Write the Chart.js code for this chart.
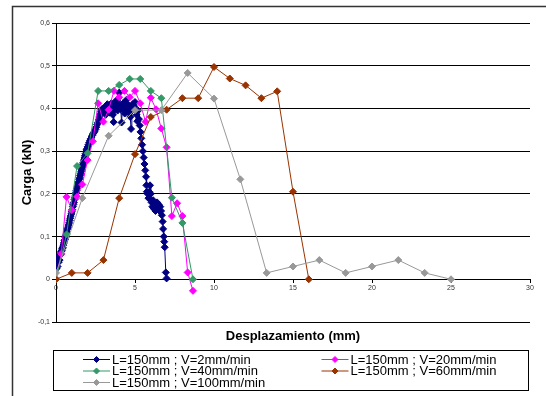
<!DOCTYPE html>
<html><head><meta charset="utf-8">
<script src="https://cdn.jsdelivr.net/npm/chart.js@4/dist/chart.umd.min.js"></script>
<style>html,body{margin:0;padding:0;background:#fff;}#wrap{width:546px;height:396px;}</style>
</head><body><div id="wrap"><canvas id="c" width="546" height="396"></canvas></div>
<script>
const FONT = "'Liberation Sans', Arial, sans-serif";
const seriesNames = ['L=150mm ; V=2mm/min','L=150mm ; V=20mm/min','L=150mm ; V=40mm/min','L=150mm ; V=60mm/min','L=150mm ; V=100mm/min'];
const seriesColors = ['#000080','#FF00FF','#339966','#993300','#999999'];
const xTickLabels = ['0','5','10','15','20','25','30'];
const yTickLabels = ['-0,1','0','0,1','0,2','0,3','0,4','0,5','0,6'];

// V=2mm/min
const v2X = [0.00,0.03,0.07,0.10,0.13,0.17,0.20,0.23,0.27,0.30,0.33,0.37,0.40,0.43,0.47,0.50,0.53,0.57,0.60,0.63,0.67,0.70,0.73,0.77,0.80,0.83,0.87,0.90,0.93,0.97,1.00,1.03,1.07,1.10,1.13,1.17,1.20,1.23,1.27,1.30,1.33,1.37,1.40,1.43,1.47,1.50,1.53,1.57,1.60,1.63,1.67,1.70,1.73,1.77,1.80,1.83,1.87,1.90,1.93,1.97,2.00,2.05,2.10,2.15,2.20,2.25,2.30,2.35,2.40,2.45,2.50,2.55,2.60,2.65,2.70,2.75,2.80,2.85,2.90,
2.95,3.00,3.05,3.10,3.15,3.20,3.25,3.30,3.35,3.40,3.45,3.50,3.55,3.60,3.65,3.70,3.75,3.80,3.85,3.90,3.95,4.00,4.05,4.10,4.15,4.20,4.25,4.30,4.35,4.40,4.45,4.50,4.55,4.60,4.65,4.70,4.75,4.80,4.85,4.90,4.95,5.00,5.05,5.10,5.15,5.20,
5.25,5.30,5.35,5.40,5.45,5.50,5.55,5.60,5.65,5.70,5.72,5.75,5.80,5.85,5.90,5.95,6.00,6.05,6.10,6.15,6.20,6.25,6.30,6.35,6.40,6.45,6.50,6.55,6.60,6.65,6.70,6.75,6.78,6.82,6.85,6.88,6.95,7.00];
const v2Y = [0.045,0.025,0.040,0.030,0.050,0.040,0.055,0.045,0.060,0.058,0.065,0.068,0.072,0.075,0.080,0.085,0.090,0.093,0.098,0.103,0.108,0.112,0.118,0.122,0.127,0.132,0.138,0.143,0.148,0.153,0.158,0.163,0.170,0.175,0.180,0.187,0.192,0.197,0.203,0.208,0.213,0.218,0.223,0.228,0.234,0.238,0.243,0.248,0.253,0.258,0.263,0.268,0.273,0.279,0.284,0.289,0.294,0.299,0.303,0.306,0.310,0.315,0.320,0.325,0.329,0.333,0.337,0.341,0.344,0.347,0.351,0.356,0.362,0.367,0.373,0.380,0.386,0.392,0.397,
0.400,0.392,0.402,0.395,0.385,0.400,0.410,0.398,0.405,0.390,0.400,0.412,0.400,0.385,0.368,0.395,0.405,0.418,0.402,0.395,0.410,0.437,0.405,0.398,0.367,0.400,0.412,0.402,0.388,0.405,0.420,0.400,0.392,0.408,0.398,0.380,0.352,0.395,0.410,0.398,0.405,0.415,0.395,0.385,0.370,0.395,
0.375,0.360,0.345,0.330,0.315,0.300,0.285,0.270,0.255,0.240,0.220,0.205,0.200,0.190,0.205,0.220,0.200,0.180,0.170,0.185,0.165,0.175,0.160,0.170,0.180,0.165,0.175,0.160,0.170,0.160,0.150,0.135,0.118,0.100,0.088,0.075,0.016,0.002];

// V=20mm/min
const v20X = [0,0.333,0.667,1.0,1.333,1.667,2.0,2.333,2.667,3.0,3.333,3.667,4.0,4.333,4.667,5.0,5.333,5.667,6.0,6.333,6.667,7.0,7.333,7.667,8.0,8.333,8.667];
const v20Y = [0,0.060,0.193,0.162,0.193,0.222,0.279,0.323,0.412,0.369,0.397,0.441,0.426,0.441,0.426,0.441,0.412,0.369,0.425,0.398,0.353,0.309,0.148,0.178,0.148,0.016,-0.027];

// V=40mm/min
const v40X = [0,0.667,1.333,2.0,2.667,3.333,4.0,4.667,5.333,6.0,6.667,7.333,8.0,8.667];
const v40Y = [0,0.105,0.265,0.295,0.441,0.441,0.455,0.469,0.469,0.441,0.424,0.191,0.132,0.0];

// V=60mm/min
const v60X = [0,1,2,3,4,5,6,7,8,9,10,11,12,13,14,15,16];
const v60Y = [0,0.015,0.015,0.045,0.190,0.293,0.380,0.397,0.424,0.424,0.497,0.470,0.454,0.424,0.440,0.205,0];

// V=100mm/min
const v100X = [0,1.667,3.333,5.0,6.667,8.333,10.0,11.667,13.333,15.0,16.667,18.333,20.0,21.667,23.333,25.0];
const v100Y = [0.015,0.190,0.336,0.396,0.396,0.483,0.423,0.234,0.015,0.030,0.045,0.015,0.030,0.045,0.015,0.0];

const xs = [v2X, v20X, v40X, v60X, v100X];
const ys = [v2Y, v20Y, v40Y, v60Y, v100Y];

const datasets = seriesNames.map((name, i) => ({
  label: name,
  data: xs[i].map((x, k) => ({x: x, y: ys[i][k]})),
  borderColor: seriesColors[i],
  backgroundColor: seriesColors[i],
  pointBackgroundColor: seriesColors[i],
  pointBorderColor: seriesColors[i],
  pointStyle: 'rectRot',
  pointRadius: 3.5,
  pointBorderWidth: 1,
  borderWidth: 1,
  tension: 0,
  fill: false,
  xAxisID: 'x',
  yAxisID: 'y',
  order: 5 - i
}));

const framePlugin = {
  id: 'frame',
  beforeDraw(chart) {
    const ctx = chart.ctx;
    ctx.save();
    ctx.fillStyle = '#fff';
    ctx.fillRect(0, 0, chart.width, chart.height);
    ctx.restore();
  },
  afterDraw(chart) {
    const ctx = chart.ctx;
    ctx.save();
    // outer frame
    ctx.strokeStyle = '#333';
    ctx.lineWidth = 1.5;
    ctx.beginPath();
    ctx.moveTo(12.5, 400); ctx.lineTo(12.5, 6.5); ctx.lineTo(550, 6.5);
    ctx.stroke();
    // legend box
    ctx.strokeStyle = '#000';
    ctx.lineWidth = 1;
    ctx.strokeRect(53.5, 350.5, 475, 40);
    const cols = [83, 321.5];
    const rows = [359.5, 371, 382.5];
    ctx.font = '13px ' + FONT;
    ctx.textBaseline = 'middle';
    ctx.textAlign = 'left';
    chart.data.datasets.forEach((ds, i) => {
      const cx = cols[i % 2], cy = rows[Math.floor(i / 2)];
      ctx.strokeStyle = ds.borderColor;
      ctx.fillStyle = ds.borderColor;
      ctx.lineWidth = 1;
      ctx.beginPath(); ctx.moveTo(cx, cy); ctx.lineTo(cx + 27, cy); ctx.stroke();
      const mx = cx + 13.5, r = 3;
      ctx.beginPath(); ctx.moveTo(mx - r, cy); ctx.lineTo(mx, cy - r); ctx.lineTo(mx + r, cy); ctx.lineTo(mx, cy + r); ctx.closePath();
      ctx.fill(); ctx.stroke();
      ctx.fillStyle = '#000';
      ctx.fillText(ds.label, cx + 29, cy + 0.5);
    });
    ctx.restore();
  }
};

new Chart(document.getElementById('c'), {
  type: 'line',
  data: { datasets },
  options: {
    responsive: false,
    animation: false,
    devicePixelRatio: 1,
    events: [],
    layout: { padding: { left: 12, top: 23, right: 16, bottom: 46 } },
    plugins: { legend: { display: false }, tooltip: { enabled: false }, title: { display: false } },
    scales: {
      x: {
        type: 'linear', min: 0, max: 30, position: { y: 0 },
        ticks: { stepSize: 5, font: { size: 7, family: FONT }, color: '#333', padding: 2, maxRotation: 0,
                 callback: (v, i) => xTickLabels[i] },
        grid: { display: true, drawOnChartArea: false, drawTicks: true, tickLength: 3, color: '#000' },
        border: { display: true, color: '#000', width: 1 }
      },
      x2: {
        type: 'linear', min: 0, max: 30, position: 'bottom',
        ticks: { display: false }, grid: { display: false, drawTicks: false }, border: { display: false },
        title: { display: true, text: 'Desplazamiento (mm)', color: '#000',
                 font: { size: 13, weight: 'bold', family: FONT }, padding: { top: 4, bottom: 6 } },
        afterFit: s => { s.height = 28; }
      },
      y: {
        type: 'linear', min: -0.1, max: 0.6, position: 'left',
        ticks: { stepSize: 0.1, font: { size: 7, family: FONT }, color: '#333', padding: 2,
                 callback: (v, i) => yTickLabels[i] },
        grid: { color: '#000', lineWidth: 1, drawTicks: true, tickLength: 4 },
        border: { display: true, color: '#000' },
        title: { display: true, text: 'Carga (kN)', color: '#000',
                 font: { size: 13, weight: 'bold', family: FONT }, padding: { top: 8, bottom: 0 } },
        afterFit: s => { s.width = 44; }
      }
    }
  },
  plugins: [framePlugin]
});
</script>
</body></html>
